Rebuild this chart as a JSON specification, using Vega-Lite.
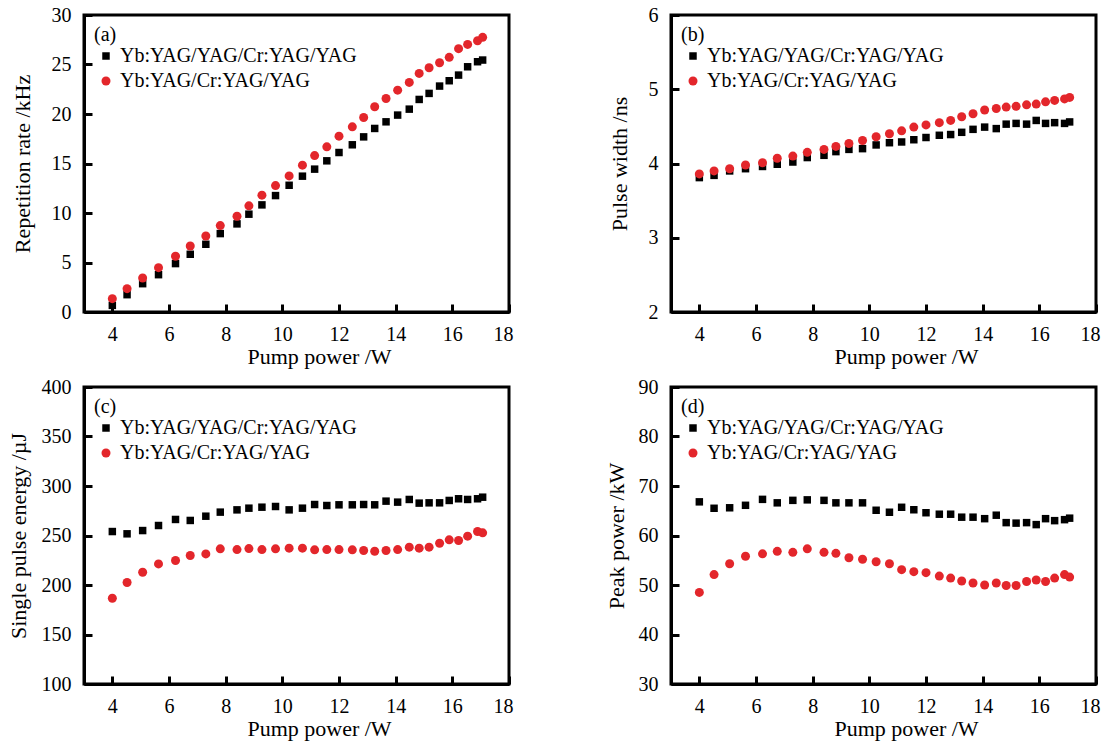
{
  "$schema": "https://vega.github.io/schema/vega-lite/v6.json",
  "background": "white",
  "padding": {"left": 5, "top": 3, "right": 5, "bottom": 5},
  "datasets": {
    "d": [
      {"s":"Yb:YAG/YAG/Cr:YAG/YAG","P":4.0,"rep":0.67,"pw":3.81,"energy":254,"peak":66.8},
      {"s":"Yb:YAG/YAG/Cr:YAG/YAG","P":4.52,"rep":1.75,"pw":3.84,"energy":251.7,"peak":65.5},
      {"s":"Yb:YAG/YAG/Cr:YAG/YAG","P":5.07,"rep":2.86,"pw":3.90,"energy":255,"peak":65.6},
      {"s":"Yb:YAG/YAG/Cr:YAG/YAG","P":5.63,"rep":3.77,"pw":3.93,"energy":260.1,"peak":66.1},
      {"s":"Yb:YAG/YAG/Cr:YAG/YAG","P":6.23,"rep":4.89,"pw":3.96,"energy":266.2,"peak":67.3},
      {"s":"Yb:YAG/YAG/Cr:YAG/YAG","P":6.75,"rep":5.83,"pw":3.99,"energy":265.2,"peak":66.6},
      {"s":"Yb:YAG/YAG/Cr:YAG/YAG","P":7.3,"rep":6.84,"pw":4.02,"energy":269.5,"peak":67.1},
      {"s":"Yb:YAG/YAG/Cr:YAG/YAG","P":7.81,"rep":7.92,"pw":4.08,"energy":273.6,"peak":67.2},
      {"s":"Yb:YAG/YAG/Cr:YAG/YAG","P":8.4,"rep":8.9,"pw":4.11,"energy":275.9,"peak":67.1},
      {"s":"Yb:YAG/YAG/Cr:YAG/YAG","P":8.82,"rep":9.88,"pw":4.16,"energy":277.6,"peak":66.6},
      {"s":"Yb:YAG/YAG/Cr:YAG/YAG","P":9.28,"rep":10.82,"pw":4.19,"energy":278.6,"peak":66.6},
      {"s":"Yb:YAG/YAG/Cr:YAG/YAG","P":9.76,"rep":11.76,"pw":4.20,"energy":279.3,"peak":66.6},
      {"s":"Yb:YAG/YAG/Cr:YAG/YAG","P":10.24,"rep":12.8,"pw":4.25,"energy":275.9,"peak":65.1},
      {"s":"Yb:YAG/YAG/Cr:YAG/YAG","P":10.71,"rep":13.72,"pw":4.28,"energy":277.6,"peak":64.7},
      {"s":"Yb:YAG/YAG/Cr:YAG/YAG","P":11.14,"rep":14.43,"pw":4.29,"energy":281.3,"peak":65.7},
      {"s":"Yb:YAG/YAG/Cr:YAG/YAG","P":11.57,"rep":15.27,"pw":4.32,"energy":280.3,"peak":65.2},
      {"s":"Yb:YAG/YAG/Cr:YAG/YAG","P":12.0,"rep":16.11,"pw":4.35,"energy":281,"peak":64.6},
      {"s":"Yb:YAG/YAG/Cr:YAG/YAG","P":12.47,"rep":16.89,"pw":4.38,"energy":281,"peak":64.3},
      {"s":"Yb:YAG/YAG/Cr:YAG/YAG","P":12.87,"rep":17.69,"pw":4.39,"energy":281.3,"peak":64.3},
      {"s":"Yb:YAG/YAG/Cr:YAG/YAG","P":13.26,"rep":18.54,"pw":4.42,"energy":281,"peak":63.7},
      {"s":"Yb:YAG/YAG/Cr:YAG/YAG","P":13.66,"rep":19.21,"pw":4.46,"energy":284.7,"peak":63.7},
      {"s":"Yb:YAG/YAG/Cr:YAG/YAG","P":14.07,"rep":19.89,"pw":4.49,"energy":283.7,"peak":63.4},
      {"s":"Yb:YAG/YAG/Cr:YAG/YAG","P":14.48,"rep":20.49,"pw":4.47,"energy":286.4,"peak":64.1},
      {"s":"Yb:YAG/YAG/Cr:YAG/YAG","P":14.83,"rep":21.47,"pw":4.53,"energy":282.7,"peak":62.6},
      {"s":"Yb:YAG/YAG/Cr:YAG/YAG","P":15.18,"rep":22.08,"pw":4.54,"energy":283,"peak":62.5},
      {"s":"Yb:YAG/YAG/Cr:YAG/YAG","P":15.55,"rep":22.82,"pw":4.53,"energy":283,"peak":62.6},
      {"s":"Yb:YAG/YAG/Cr:YAG/YAG","P":15.89,"rep":23.36,"pw":4.58,"energy":285.4,"peak":62.2},
      {"s":"Yb:YAG/YAG/Cr:YAG/YAG","P":16.22,"rep":23.93,"pw":4.54,"energy":287.1,"peak":63.4},
      {"s":"Yb:YAG/YAG/Cr:YAG/YAG","P":16.54,"rep":24.77,"pw":4.55,"energy":286.4,"peak":63.0},
      {"s":"Yb:YAG/YAG/Cr:YAG/YAG","P":16.89,"rep":25.28,"pw":4.54,"energy":287.1,"peak":63.2},
      {"s":"Yb:YAG/YAG/Cr:YAG/YAG","P":17.07,"rep":25.45,"pw":4.56,"energy":288.7,"peak":63.5},
      {"s":"Yb:YAG/Cr:YAG/YAG","P":4.0,"rep":1.35,"pw":3.86,"energy":186.6,"peak":48.5},
      {"s":"Yb:YAG/Cr:YAG/YAG","P":4.52,"rep":2.36,"pw":3.90,"energy":202.5,"peak":52.1},
      {"s":"Yb:YAG/Cr:YAG/YAG","P":5.07,"rep":3.44,"pw":3.93,"energy":212.9,"peak":54.3},
      {"s":"Yb:YAG/Cr:YAG/YAG","P":5.63,"rep":4.48,"pw":3.98,"energy":221.3,"peak":55.8},
      {"s":"Yb:YAG/Cr:YAG/YAG","P":6.23,"rep":5.63,"pw":4.01,"energy":224.7,"peak":56.3},
      {"s":"Yb:YAG/Cr:YAG/YAG","P":6.75,"rep":6.67,"pw":4.07,"energy":229.8,"peak":56.8},
      {"s":"Yb:YAG/Cr:YAG/YAG","P":7.3,"rep":7.68,"pw":4.10,"energy":231.4,"peak":56.6},
      {"s":"Yb:YAG/Cr:YAG/YAG","P":7.81,"rep":8.73,"pw":4.15,"energy":236.5,"peak":57.3},
      {"s":"Yb:YAG/Cr:YAG/YAG","P":8.4,"rep":9.67,"pw":4.19,"energy":235.8,"peak":56.6},
      {"s":"Yb:YAG/Cr:YAG/YAG","P":8.82,"rep":10.72,"pw":4.23,"energy":236.8,"peak":56.4},
      {"s":"Yb:YAG/Cr:YAG/YAG","P":9.28,"rep":11.8,"pw":4.27,"energy":235.8,"peak":55.5},
      {"s":"Yb:YAG/Cr:YAG/YAG","P":9.76,"rep":12.77,"pw":4.31,"energy":236.5,"peak":55.2},
      {"s":"Yb:YAG/Cr:YAG/YAG","P":10.24,"rep":13.75,"pw":4.36,"energy":237.2,"peak":54.7},
      {"s":"Yb:YAG/Cr:YAG/YAG","P":10.71,"rep":14.83,"pw":4.40,"energy":237.2,"peak":54.3},
      {"s":"Yb:YAG/Cr:YAG/YAG","P":11.14,"rep":15.8,"pw":4.44,"energy":235.5,"peak":53.1},
      {"s":"Yb:YAG/Cr:YAG/YAG","P":11.57,"rep":16.68,"pw":4.49,"energy":235.8,"peak":52.7},
      {"s":"Yb:YAG/Cr:YAG/YAG","P":12.0,"rep":17.76,"pw":4.52,"energy":235.8,"peak":52.5},
      {"s":"Yb:YAG/Cr:YAG/YAG","P":12.47,"rep":18.7,"pw":4.55,"energy":235.5,"peak":51.8},
      {"s":"Yb:YAG/Cr:YAG/YAG","P":12.87,"rep":19.65,"pw":4.58,"energy":234.8,"peak":51.4},
      {"s":"Yb:YAG/Cr:YAG/YAG","P":13.26,"rep":20.73,"pw":4.63,"energy":234.1,"peak":50.8},
      {"s":"Yb:YAG/Cr:YAG/YAG","P":13.66,"rep":21.57,"pw":4.67,"energy":234.8,"peak":50.4},
      {"s":"Yb:YAG/Cr:YAG/YAG","P":14.07,"rep":22.41,"pw":4.72,"energy":235.8,"peak":50.0},
      {"s":"Yb:YAG/Cr:YAG/YAG","P":14.48,"rep":23.19,"pw":4.74,"energy":238.2,"peak":50.4},
      {"s":"Yb:YAG/Cr:YAG/YAG","P":14.83,"rep":24.1,"pw":4.76,"energy":237.2,"peak":49.9},
      {"s":"Yb:YAG/Cr:YAG/YAG","P":15.18,"rep":24.67,"pw":4.77,"energy":238.2,"peak":49.9},
      {"s":"Yb:YAG/Cr:YAG/YAG","P":15.55,"rep":25.18,"pw":4.79,"energy":242.2,"peak":50.7},
      {"s":"Yb:YAG/Cr:YAG/YAG","P":15.89,"rep":25.72,"pw":4.80,"energy":245.6,"peak":51.0},
      {"s":"Yb:YAG/Cr:YAG/YAG","P":16.22,"rep":26.6,"pw":4.83,"energy":244.9,"peak":50.7},
      {"s":"Yb:YAG/Cr:YAG/YAG","P":16.54,"rep":27.03,"pw":4.85,"energy":249.3,"peak":51.4},
      {"s":"Yb:YAG/Cr:YAG/YAG","P":16.89,"rep":27.4,"pw":4.87,"energy":254,"peak":52.1},
      {"s":"Yb:YAG/Cr:YAG/YAG","P":17.07,"rep":27.74,"pw":4.89,"energy":252.7,"peak":51.6}
    ]
  },
  "columns": 2,
  "spacing": {"row": 75, "column": 162},
  "bounds": "flush",
  "resolve": {
    "scale": {"x": "independent", "y": "independent", "color": "independent", "shape": "independent", "size": "independent"},
    "legend": {"color": "independent", "shape": "independent", "size": "independent"}
  },
  "concat": [
    {
      "width": 425, "height": 297,
      "data": {"name": "d"},
      "mark": {"type": "point", "filled": true, "opacity": 1, "strokeWidth": 0},
      "encoding": {
        "x": {"field": "P", "type": "quantitative", "scale": {"domain": [3, 18], "nice": false, "zero": false},
              "axis": {"title": "Pump power /W", "values": [4, 6, 8, 10, 12, 14, 16, 18]}},
        "y": {"field": "rep", "type": "quantitative", "scale": {"domain": [0, 30], "nice": false},
              "axis": {"title": "Repetition rate /kHz", "values": [0, 5, 10, 15, 20, 25, 30], "titleX": -55}},
        "color": {"field": "s", "type": "nominal", "scale": {"domain": ["Yb:YAG/YAG/Cr:YAG/YAG", "Yb:YAG/Cr:YAG/YAG"], "range": ["#000000", "#e3262b"]}, "legend": {"title": "(a)"}},
        "shape": {"field": "s", "type": "nominal", "scale": {"domain": ["Yb:YAG/YAG/Cr:YAG/YAG", "Yb:YAG/Cr:YAG/YAG"], "range": ["square", "circle"]}, "legend": {"title": "(a)"}},
        "size": {"field": "s", "type": "ordinal", "scale": {"domain": ["Yb:YAG/YAG/Cr:YAG/YAG", "Yb:YAG/Cr:YAG/YAG"], "range": [56, 81]}, "legend": {"title": "(a)"}}
      }
    },
    {
      "width": 425, "height": 297,
      "data": {"name": "d"},
      "mark": {"type": "point", "filled": true, "opacity": 1, "strokeWidth": 0},
      "encoding": {
        "x": {"field": "P", "type": "quantitative", "scale": {"domain": [3, 18], "nice": false, "zero": false},
              "axis": {"title": "Pump power /W", "values": [4, 6, 8, 10, 12, 14, 16, 18]}},
        "y": {"field": "pw", "type": "quantitative", "scale": {"domain": [2, 6], "nice": false, "zero": false},
              "axis": {"title": "Pulse width /ns", "values": [2, 3, 4, 5, 6], "titleX": -45}},
        "color": {"field": "s", "type": "nominal", "scale": {"domain": ["Yb:YAG/YAG/Cr:YAG/YAG", "Yb:YAG/Cr:YAG/YAG"], "range": ["#000000", "#e3262b"]}, "legend": {"title": "(b)"}},
        "shape": {"field": "s", "type": "nominal", "scale": {"domain": ["Yb:YAG/YAG/Cr:YAG/YAG", "Yb:YAG/Cr:YAG/YAG"], "range": ["square", "circle"]}, "legend": {"title": "(b)"}},
        "size": {"field": "s", "type": "ordinal", "scale": {"domain": ["Yb:YAG/YAG/Cr:YAG/YAG", "Yb:YAG/Cr:YAG/YAG"], "range": [56, 81]}, "legend": {"title": "(b)"}}
      }
    },
    {
      "width": 425, "height": 297,
      "data": {"name": "d"},
      "mark": {"type": "point", "filled": true, "opacity": 1, "strokeWidth": 0},
      "encoding": {
        "x": {"field": "P", "type": "quantitative", "scale": {"domain": [3, 18], "nice": false, "zero": false},
              "axis": {"title": "Pump power /W", "values": [4, 6, 8, 10, 12, 14, 16, 18]}},
        "y": {"field": "energy", "type": "quantitative", "scale": {"domain": [100, 400], "nice": false, "zero": false},
              "axis": {"title": "Single pulse energy /µJ", "values": [100, 150, 200, 250, 300, 350, 400], "titleX": -59}},
        "color": {"field": "s", "type": "nominal", "scale": {"domain": ["Yb:YAG/YAG/Cr:YAG/YAG", "Yb:YAG/Cr:YAG/YAG"], "range": ["#000000", "#e3262b"]}, "legend": {"title": "(c)"}},
        "shape": {"field": "s", "type": "nominal", "scale": {"domain": ["Yb:YAG/YAG/Cr:YAG/YAG", "Yb:YAG/Cr:YAG/YAG"], "range": ["square", "circle"]}, "legend": {"title": "(c)"}},
        "size": {"field": "s", "type": "ordinal", "scale": {"domain": ["Yb:YAG/YAG/Cr:YAG/YAG", "Yb:YAG/Cr:YAG/YAG"], "range": [56, 81]}, "legend": {"title": "(c)"}}
      }
    },
    {
      "width": 425, "height": 297,
      "data": {"name": "d"},
      "mark": {"type": "point", "filled": true, "opacity": 1, "strokeWidth": 0},
      "encoding": {
        "x": {"field": "P", "type": "quantitative", "scale": {"domain": [3, 18], "nice": false, "zero": false},
              "axis": {"title": "Pump power /W", "values": [4, 6, 8, 10, 12, 14, 16, 18]}},
        "y": {"field": "peak", "type": "quantitative", "scale": {"domain": [30, 90], "nice": false, "zero": false},
              "axis": {"title": "Peak power /kW", "values": [30, 40, 50, 60, 70, 80, 90], "titleX": -48}},
        "color": {"field": "s", "type": "nominal", "scale": {"domain": ["Yb:YAG/YAG/Cr:YAG/YAG", "Yb:YAG/Cr:YAG/YAG"], "range": ["#000000", "#e3262b"]}, "legend": {"title": "(d)"}},
        "shape": {"field": "s", "type": "nominal", "scale": {"domain": ["Yb:YAG/YAG/Cr:YAG/YAG", "Yb:YAG/Cr:YAG/YAG"], "range": ["square", "circle"]}, "legend": {"title": "(d)"}},
        "size": {"field": "s", "type": "ordinal", "scale": {"domain": ["Yb:YAG/YAG/Cr:YAG/YAG", "Yb:YAG/Cr:YAG/YAG"], "range": [56, 81]}, "legend": {"title": "(d)"}}
      }
    }
  ],
  "config": {
    "font": "Liberation Serif",
    "view": {"stroke": "black", "strokeWidth": 3},
    "axis": {
      "grid": false,
      "domainColor": "black", "domainWidth": 3,
      "tickColor": "black", "tickWidth": 3, "tickSize": -8,
      "labelFont": "Liberation Serif", "labelFontSize": 20, "labelColor": "black",
      "labelFlush": false, "labelOverlap": false, "labelBound": false,
      "titleFont": "Liberation Serif", "titleFontSize": 22, "titleFontWeight": "normal", "titleColor": "black"
    },
    "axisX": {"labelPadding": 20, "titleX": 235, "titleY": 51, "titleBaseline": "alphabetic",
              "labelOffset": {"condition": {"test": "datum.value == 18", "value": -6}, "value": 0}},
    "axisY": {"labelPadding": 21, "titleBaseline": "alphabetic"},
    "legend": {
      "orient": "top-left", "offset": 10, "padding": 0,
      "titleFont": "Liberation Serif", "titleFontSize": 20, "titleFontWeight": "normal", "titleColor": "black",
      "labelFont": "Liberation Serif", "labelFontSize": 20, "labelColor": "black", "labelLimit": 0,
      "symbolOffset": 2, "labelOffset": 4, "rowPadding": 5, "titlePadding": 1, "symbolStrokeWidth": 0
    }
  }
}
